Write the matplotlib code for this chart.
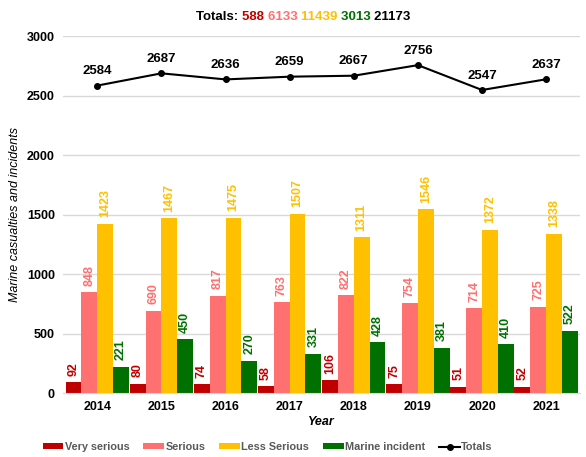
import matplotlib.pyplot as plt
import numpy as np

plt.rcParams['font.family'] = ['Liberation Sans', 'DejaVu Sans']
plt.rcParams['font.size'] = 9

years = ['2014', '2015', '2016', '2017', '2018', '2019', '2020', '2021']
very_serious = [92, 80, 74, 58, 106, 75, 51, 52]
serious = [848, 690, 817, 763, 822, 754, 714, 725]
less_serious = [1423, 1467, 1475, 1507, 1311, 1546, 1372, 1338]
marine_incident = [221, 450, 270, 331, 428, 381, 410, 522]
totals = [2584, 2687, 2636, 2659, 2667, 2756, 2547, 2637]

sums = ['588', '6133', '11439', '3013', '21173']

series = [
    ('Very serious', very_serious, '#C00000'),
    ('Serious', serious, '#FF7070'),
    ('Less Serious', less_serious, '#FFC000'),
    ('Marine incident', marine_incident, '#007000'),
]

fig = plt.figure(figsize=(5.86, 4.57), dpi=100)
ax = fig.add_axes([0.108, 0.14, 0.882, 0.781])

x = np.arange(len(years))
w = 0.247
for i, (name, vals, col) in enumerate(series):
    pos = x + (i - 1.5) * w
    ax.bar(pos, vals, width=w, color=col, label=name, zorder=2)
    for p, v in zip(pos, vals):
        ax.text(p, v + 55, str(v), rotation=90, ha='center', va='bottom',
                color=col, fontweight='bold', fontsize=9)

ax.plot(x, totals, color='black', marker='o', markersize=4, linewidth=1.5,
        label='Totals', zorder=3)
for xi, t in zip(x, totals):
    ax.text(xi, t + 70, str(t), ha='center', va='bottom', fontweight='bold',
            fontsize=9.5)

ax.set_ylim(0, 3000)
ax.set_xlim(-0.53, len(years) - 0.47)
ax.set_yticks(range(0, 3001, 500))
ax.set_xticks(x)
ax.set_xticklabels(years, fontweight='bold')
for lbl in ax.get_yticklabels():
    lbl.set_fontweight('bold')
ax.tick_params(length=0, pad=6)
ax.grid(axis='y', color='#D9D9D9', linewidth=1, zorder=0)
for s in ['top', 'right', 'left']:
    ax.spines[s].set_visible(False)
ax.spines['bottom'].set_color('#D9D9D9')

ax.set_ylabel('Marine casualties and incidents', style='italic', fontsize=9)
ax.set_xlabel('Year', style='italic', fontweight='bold', fontsize=9, labelpad=2)

handles, labels = ax.get_legend_handles_labels()
# put the Totals line at the end, like the original
order = [1, 2, 3, 4, 0]
leg = fig.legend([handles[i] for i in order], [labels[i] for i in order],
                 loc='center left', bbox_to_anchor=(0.073, 1 - 447 / 457),
                 ncol=5, frameon=False, handlelength=1.9, handleheight=0.5,
                 columnspacing=1.3, handletextpad=0.12, fontsize=7.8,
                 borderpad=0, borderaxespad=0)
for t in leg.get_texts():
    t.set_color('#595959')
    t.set_fontweight('bold')

# title with coloured totals
parts = [('Totals: ', 'black')] + list(zip([s + ' ' for s in sums],
                                            ['#C00000', '#FF7070', '#FFC000', '#007000', 'black']))
renderer = fig.canvas.get_renderer()
xs = 0.335
for txt, col in parts:
    t = fig.text(xs, 0.962, txt, color=col, fontweight='bold', fontsize=9.5,
                 va='center', ha='left')
    bb = t.get_window_extent(renderer=renderer)
    xs += bb.width / fig.bbox.width

fig.savefig('out.png', dpi=100)
